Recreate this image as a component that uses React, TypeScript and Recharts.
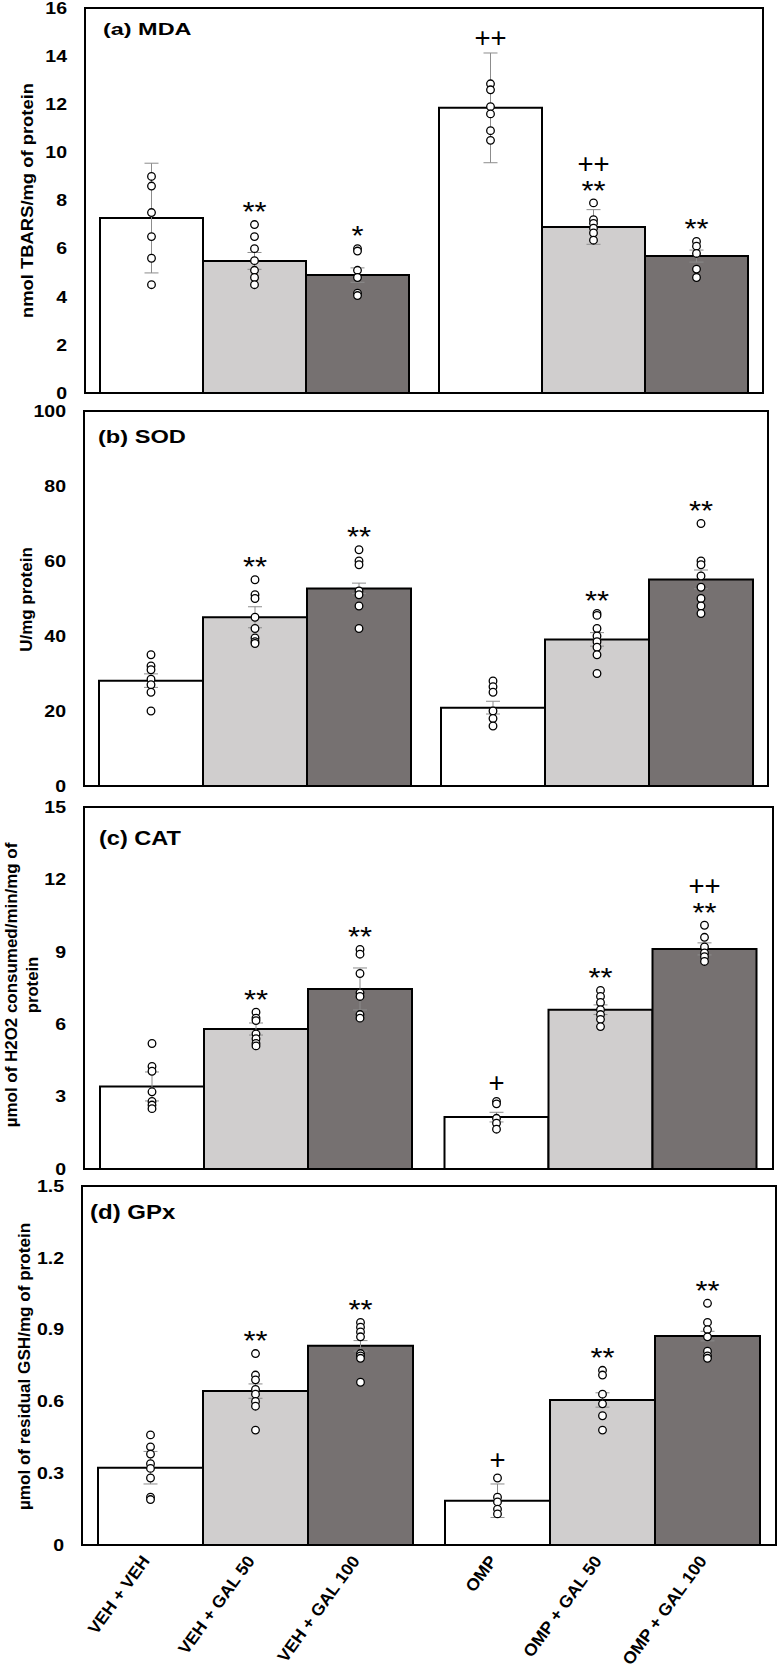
import { BarChart, Bar, XAxis, YAxis, ErrorBar, LabelList, ReferenceArea, Label } from 'recharts'

const FONT = '"Liberation Sans", Arial, sans-serif'

const groups = ['VEH', 'OMP']
const xLabels = ['VEH + VEH', 'VEH + GAL 50', 'VEH + GAL 100', 'OMP', 'OMP + GAL 50', 'OMP + GAL 100']
const barFills = ['#ffffff', '#d0cece', '#767171']

// (a) MDA
const mdaTicks = [0, 2, 4, 6, 8, 10, 12, 14, 16]
const mdaMeans = [7.27, 5.49, 4.9, 11.85, 6.9, 5.69]
const mdaErrs = [2.28, 0.35, 0.3, 2.28, 0.72, 0.25]
const mdaPoints = [
  [9.0, 8.6, 7.5, 6.5, 5.6, 4.5],
  [7.0, 6.5, 6.0, 5.5, 5.1, 4.8, 4.5],
  [6.0, 5.9, 5.1, 4.8, 4.15, 4.05],
  [12.85, 12.6, 11.9, 11.6, 10.9, 10.5],
  [7.9, 7.2, 7.05, 6.85, 6.65, 6.35],
  [6.3, 6.1, 5.8, 5.15, 4.8],
]
const mdaMarks = [[], ['**'], ['*'], ['++'], ['++', '**'], ['**']]

// (b) SOD
const sodTicks = [0, 20, 40, 60, 80, 100]
const sodMeans = [28.1, 45.0, 52.7, 20.9, 39.1, 55.1]
const sodErrs = [1.8, 2.8, 1.4, 1.7, 1.8, 2.5]
const sodPoints = [
  [35, 32, 31, 28.5, 27, 25, 20],
  [55, 51, 50, 45, 42, 39.5, 38.5, 38],
  [63, 60, 59, 52, 51, 48, 42],
  [28, 26.5, 25, 20, 18, 16],
  [46, 45.5, 42, 40, 38.5, 37, 35, 30],
  [70, 60, 59, 56, 53, 50, 48, 46],
]
const sodMarks = [[], ['**'], ['**'], [], ['**'], ['**']]

// (c) CAT
const catTicks = [0, 3, 6, 9, 12, 15]
const catMeans = [3.42, 5.8, 7.46, 2.15, 6.6, 9.12]
const catErrs = [0.6, 0.25, 0.87, 0.2, 0.2, 0.25]
const catPoints = [
  [5.2, 4.25, 4.05, 3.2, 2.8, 2.65, 2.5],
  [6.5, 6.25, 6.15, 5.6, 5.4, 5.2, 5.1],
  [9.1, 8.9, 8.1, 7.3, 7.15, 6.4, 6.25],
  [2.8, 2.7, 2.1, 1.9, 1.65],
  [7.4, 7.15, 6.9, 6.6, 6.4, 6.2, 5.9],
  [10.1, 9.6, 9.2, 8.95, 8.8, 8.6],
]
const catMarks = [[], ['**'], ['**'], ['+'], ['**'], ['++', '**']]

// (d) GPx
const gpxTicks = [0, 0.3, 0.6, 0.9, 1.2, 1.5]
const gpxMeans = [0.323, 0.643, 0.832, 0.185, 0.606, 0.873]
const gpxErrs = [0.068, 0.03, 0.022, 0.07, 0.03, 0.02]
const gpxPoints = [
  [0.46, 0.41, 0.38, 0.34, 0.32, 0.28, 0.2, 0.19],
  [0.8, 0.71, 0.69, 0.65, 0.63, 0.6, 0.58, 0.48],
  [0.93, 0.91, 0.89, 0.87, 0.8, 0.79, 0.78, 0.68],
  [0.28, 0.2, 0.18, 0.15, 0.13],
  [0.73, 0.71, 0.63, 0.59, 0.54, 0.48],
  [1.01, 0.93, 0.9, 0.87, 0.81, 0.79, 0.78],
]
const gpxMarks = [[], ['**'], ['**'], ['+'], ['**'], ['**']]

const panels = [
  {
    title: '(a) MDA', yTitle: ['nmol TBARS/mg of protein'],
    ticks: mdaTicks, means: mdaMeans, errs: mdaErrs, points: mdaPoints, marks: mdaMarks,
    top: 0, height: 402, frame: { l: 85, r: 763, t: 8, b: 393 }, gap: 15,
    titleAt: [103, 34.5], titleSize: 16.5, titleSx: 1.42,
    yTitleAt: [[27.5, 200.5, 1.15]], xLabels: false,
  },
  {
    title: '(b) SOD', yTitle: ['U/mg protein'],
    ticks: sodTicks, means: sodMeans, errs: sodErrs, points: sodPoints, marks: sodMarks,
    top: 402, height: 394, frame: { l: 84, r: 768, t: 411, b: 786 }, gap: 15,
    titleAt: [98, 443.3], titleSize: 18.6, titleSx: 1.27,
    yTitleAt: [[26, 599.5, 1.06]], xLabels: false,
  },
  {
    title: '(c) CAT', yTitle: ['µmol of H2O2 consumed/min/mg of', 'protein'],
    ticks: catTicks, means: catMeans, errs: catErrs, points: catPoints, marks: catMarks,
    top: 796, height: 381, frame: { l: 84, r: 773, t: 807, b: 1169 }, gap: 16,
    titleAt: [99, 845.3], titleSize: 20.5, titleSx: 1.15,
    yTitleAt: [[11, 985, 1.06], [32, 985, 1.04]], xLabels: false,
  },
  {
    title: '(d) GPx', yTitle: ['µmol of residual GSH/mg of protein'],
    ticks: gpxTicks, means: gpxMeans, errs: gpxErrs, points: gpxPoints, marks: gpxMarks,
    top: 1177, height: 492, frame: { l: 82, r: 776, t: 1186, b: 1545 }, gap: 16,
    titleAt: [90, 1219.3], titleSize: 20, titleSx: 1.2,
    yTitleAt: [[24.5, 1366.5, 1.07]], xLabels: true,
  },
]

type PanelT = (typeof panels)[number]

function SText({ x, y, sx = 1, angle = 0, anchor = 'start', size, weight = 'normal', dy, children }: any) {
  return (
    <text
      transform={`translate(${x},${y}) rotate(${angle}) scale(${sx},1)`}
      textAnchor={anchor}
      fontSize={size}
      fontWeight={weight}
      fontFamily={FONT}
      fill="#000"
      dy={dy}
    >
      {children}
    </text>
  )
}

function boxOf(p: any) {
  const vb = p.viewBox ?? p
  return { x: Number(vb.x), y: Number(vb.y), width: Number(vb.width), height: Number(vb.height) }
}

// individual points and significance marks above each bar
function Overlay({ p, i, panel }: { p: any; i: number; panel: PanelT }) {
  const { x, y, width, height } = boxOf(p)
  const mean = panel.means[i]
  const ppu = height / mean
  const base = y + height
  const cx = x + width / 2
  const r = 3.8
  const pts = panel.points[i]
  const topDot = base - Math.max(...pts) * ppu - r
  const errTop = base - (mean + panel.errs[i]) * ppu
  const anchor = Math.min(topDot, errTop)
  const lines = panel.marks[i]
  return (
    <g>
      {pts.map((v, k) => (
        <circle key={k} cx={cx} cy={base - v * ppu} r={r} fill="#fff" stroke="#000" strokeWidth={1.3} />
      ))}
      {lines.map((t, k) => {
        const center = anchor - 15 - (lines.length - 1 - k) * 21
        const star = t.includes('*')
        return star ? (
          <SText key={k} x={cx} y={center + 15.5} anchor="middle" size={27} sx={1.15}>{t}</SText>
        ) : (
          <SText key={k} x={cx} y={center + 9.4} anchor="middle" size={27.5} sx={1}>{t}</SText>
        )
      })}
    </g>
  )
}

function XLab({ p, i }: { p: any; i: number }) {
  const { x, y, width, height } = boxOf(p)
  return (
    <SText x={x + width / 2} y={y + height + 16} angle={-54} anchor="end" size={17} weight="bold" sx={1.03}>
      {xLabels[i]}
    </SText>
  )
}

function Panel({ panel }: { panel: PanelT }) {
  const { frame, top, height } = panel
  const data = groups.map((g, gi) => ({
    group: g,
    m0: panel.means[gi * 3], m1: panel.means[gi * 3 + 1], m2: panel.means[gi * 3 + 2],
    e0: panel.errs[gi * 3], e1: panel.errs[gi * 3 + 1], e2: panel.errs[gi * 3 + 2],
  }))
  const max = panel.ticks[panel.ticks.length - 1]
  const tick = (p: any) => (
    <SText x={frame.l - 18} y={p.y} dy="0.36em" anchor="end" size={16} weight="bold" sx={1.22}>
      {String(p.payload.value)}
    </SText>
  )
  const titles = () => (
    <g>
      {panel.yTitle.map((t, k) => {
        const [tx, ty, sx] = panel.yTitleAt[k]
        return (
          <SText key={k} x={tx} y={ty - top} angle={-90} anchor="middle" dy="0.35em" size={16} weight="bold" sx={sx}>{t}</SText>
        )
      })}
      <SText x={panel.titleAt[0]} y={panel.titleAt[1] - top} size={panel.titleSize} weight="bold" sx={panel.titleSx}>
        {panel.title}
      </SText>
    </g>
  )
  return (
    <div style={{ position: 'absolute', left: 0, top }}>
      <BarChart
        width={779}
        height={height}
        data={data}
        margin={{ top: frame.t - top, bottom: top + height - frame.b, left: frame.l - 60, right: 779 - frame.r }}
        barCategoryGap={panel.gap}
        barGap={0}
      >
        <XAxis dataKey="group" hide />
        <YAxis type="number" domain={[0, max]} ticks={panel.ticks} interval={0} width={60} axisLine={false} tickLine={false} tick={tick}>
          <Label content={titles} />
        </YAxis>
        {[0, 1, 2].map((s) => (
          <Bar key={s} dataKey={`m${s}`} fill={barFills[s]} stroke="#000" strokeWidth={2} isAnimationActive={false}>
            <ErrorBar dataKey={`e${s}`} width={7} stroke="#8c8c8c" strokeWidth={1} />
            <LabelList dataKey={`m${s}`} content={(p: any) => <Overlay p={p} i={p.index * 3 + s} panel={panel} />} />
            {panel.xLabels && <LabelList dataKey={`m${s}`} content={(p: any) => <XLab p={p} i={p.index * 3 + s} />} />}
          </Bar>
        ))}
        <ReferenceArea y1={0} y2={max} fill="none" stroke="#000" strokeWidth={2} ifOverflow="visible" />
      </BarChart>
    </div>
  )
}

export default function App() {
  return (
    <div style={{ position: 'absolute', left: 0, top: 0, width: 779, height: 1669, background: '#fff' }}>
      {panels.map((p) => (
        <Panel key={p.title} panel={p} />
      ))}
    </div>
  )
}
